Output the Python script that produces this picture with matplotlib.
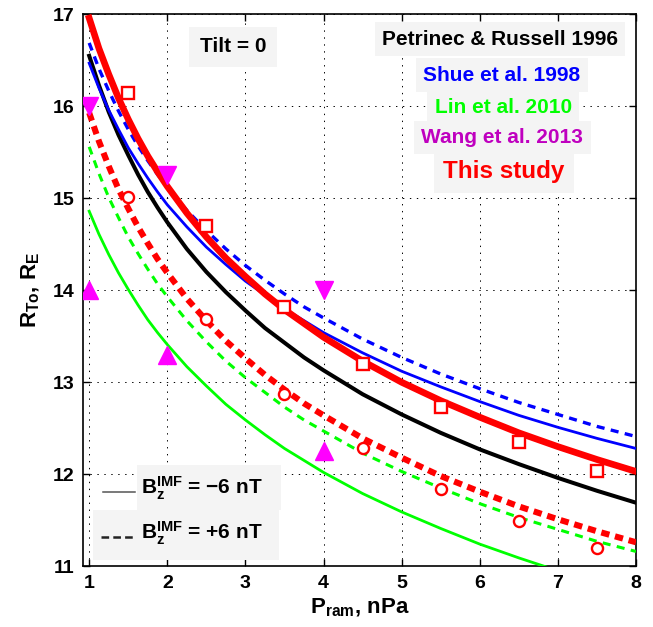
import matplotlib
matplotlib.use('Agg')
import matplotlib.pyplot as plt
from matplotlib.patches import Rectangle

plt.rcParams['font.family'] = ['Liberation Sans', 'DejaVu Sans']
plt.rcParams['font.weight'] = 'bold'
plt.rcParams['mathtext.fontset'] = 'custom'
plt.rcParams['mathtext.rm'] = 'Liberation Sans:bold'
plt.rcParams['mathtext.it'] = 'Liberation Sans:bold'
plt.rcParams['mathtext.bf'] = 'Liberation Sans:bold'
plt.rcParams['mathtext.sf'] = 'Liberation Sans:bold'
plt.rcParams['lines.scale_dashes'] = False

# ---- data ----
p_ram = [1, 1.125, 1.25, 1.375, 1.5, 1.625, 1.75, 1.875, 2, 2.25, 2.5, 2.75, 3, 3.25,
         3.5, 3.75, 4, 4.5, 5, 5.5, 6, 6.5, 7, 7.5, 8]
pr96_bz_neg = [16.55, 16.23, 15.94, 15.69, 15.47, 15.26, 15.07, 14.90, 14.74, 14.45, 14.20,
               13.98, 13.78, 13.59, 13.43, 13.27, 13.13, 12.87, 12.65, 12.45, 12.27, 12.11,
               11.96, 11.82, 11.69]
shue98_bz_neg = [16.47, 16.20, 15.96, 15.75, 15.55, 15.38, 15.22, 15.07, 14.93, 14.69, 14.47,
                 14.28, 14.10, 13.95, 13.80, 13.67, 13.54, 13.32, 13.12, 12.95, 12.79, 12.64,
                 12.51, 12.39, 12.28]
shue98_bz_pos = [16.69, 16.41, 16.17, 15.95, 15.75, 15.57, 15.41, 15.26, 15.12, 14.87, 14.65,
                 14.45, 14.27, 14.11, 13.96, 13.82, 13.70, 13.47, 13.27, 13.09, 12.93, 12.78,
                 12.65, 12.52, 12.41]
lin10_bz_neg = [14.86, 14.61, 14.39, 14.19, 14.01, 13.84, 13.68, 13.54, 13.41, 13.17, 12.96,
                12.76, 12.59, 12.43, 12.28, 12.15, 12.02, 11.79, 11.59, 11.41, 11.24, 11.09,
                10.95, 10.82, 10.70]
lin10_bz_pos = [15.56, 15.27, 15.01, 14.79, 14.58, 14.40, 14.23, 14.07, 13.93, 13.67, 13.44,
                13.23, 13.05, 12.89, 12.73, 12.59, 12.47, 12.23, 12.03, 11.85, 11.68, 11.53,
                11.40, 11.27, 11.16]
study_bz_neg = [16.96, 16.63, 16.35, 16.09, 15.86, 15.65, 15.46, 15.29, 15.13, 14.84, 14.58,
                14.35, 14.15, 13.96, 13.79, 13.64, 13.49, 13.23, 13.00, 12.80, 12.62, 12.45,
                12.30, 12.16, 12.03]
study_bz_pos = [15.93, 15.62, 15.35, 15.10, 14.89, 14.69, 14.51, 14.34, 14.19, 13.91, 13.67,
                13.45, 13.26, 13.08, 12.92, 12.77, 12.64, 12.39, 12.18, 11.98, 11.81, 11.65,
                11.51, 11.38, 11.26]

obs_p = [1.5, 2.5, 3.5, 4.5, 5.5, 6.5, 7.5]
obs_bz_neg = [16.15, 14.70, 13.82, 13.20, 12.73, 12.35, 12.03]
obs_bz_pos = [15.02, 13.69, 12.875, 12.29, 11.84, 11.49, 11.20]

wang_p = [1, 2, 4]
wang_bz_neg = [14.0, 13.3, 12.25]
wang_bz_pos = [16.0, 15.25, 14.0]

x_ticks = [1, 2, 3, 4, 5, 6, 7, 8]
y_ticks = [11, 12, 13, 14, 15, 16, 17]

BLUE = '#0000FF'
GREEN = '#00FF00'
RED = '#FF0000'
MAG = '#FF00FF'
BG = '#f4f4f4'

fig = plt.figure(figsize=(6.53, 6.27), dpi=100)
ax = fig.add_axes([0.127, 0.097, 0.847, 0.880])

dash_thin = (0, (5.8, 4.6))
dash_red = (0, (6.0, 4.2))

ax.plot(p_ram, pr96_bz_neg, color='k', lw=2.9, zorder=3, solid_joinstyle='round')
ax.plot(p_ram, shue98_bz_neg, color=BLUE, lw=2.0, zorder=3, solid_joinstyle='round')
ax.plot(p_ram, shue98_bz_pos, color=BLUE, lw=2.4, ls=dash_thin, dash_capstyle='butt', zorder=3)
ax.plot(p_ram, lin10_bz_neg, color=GREEN, lw=2.0, zorder=3, solid_joinstyle='round')
ax.plot(p_ram, lin10_bz_pos, color=GREEN, lw=2.2, ls=dash_thin, dash_capstyle='butt', zorder=3)
ax.plot(p_ram, study_bz_neg, color=RED, lw=4.8, zorder=4, solid_joinstyle='round')
ax.plot(p_ram, study_bz_pos, color=RED, lw=4.4, ls=dash_red, dash_capstyle='butt', zorder=4)

ax.plot(obs_p, obs_bz_neg, ls='none', marker='s', ms=8, mfc='white', mec=RED, mew=1.7, zorder=5)
ax.plot(obs_p, obs_bz_pos, ls='none', marker='o', ms=8, mfc='white', mec=RED, mew=1.7, zorder=5)
ax.plot(wang_p, wang_bz_neg, ls='none', marker='^', ms=13, color=MAG, mec=MAG, zorder=5)
ax.plot(wang_p, wang_bz_pos, ls='none', marker='v', ms=13, color=MAG, mec=MAG, zorder=5)

ax.set_xlim(0.92, 8)
ax.set_ylim(11, 17)
ax.set_xticks(x_ticks)
ax.set_yticks(y_ticks)
ax.tick_params(direction='in', top=True, right=True, length=5, width=1.0, labelsize=14, pad=6)
for lab in ax.get_xticklabels() + ax.get_yticklabels():
    lab.set_fontweight('bold')
for s in ax.spines.values():
    s.set_linewidth(1.2)
ax.grid(True, color='k', lw=0.7, ls=(0, (1, 4)))
ax.set_axisbelow(True)

ax.set_xlabel(r'$\mathregular{P_{ram}}$, nPa', fontsize=16, fontweight='bold', labelpad=4)
ax.set_ylabel(r'$\mathregular{R_{To}}$, $\mathregular{R_E}$', fontsize=16, fontweight='bold', labelpad=8)

box = dict(boxstyle='square,pad=0.35', facecolor=BG, edgecolor='none')
ax.text(2.84, 16.65, 'Tilt = 0', fontsize=15, ha='center', va='center', color='k',
        bbox=dict(boxstyle='square,pad=0.5', facecolor=BG, edgecolor='none'), zorder=6)
ax.text(6.26, 16.73, 'Petrinec & Russell 1996', fontsize=15, ha='center', va='center', color='k', bbox=box, zorder=6)
ax.text(6.28, 16.34, 'Shue et al. 1998', fontsize=15, ha='center', va='center', color=BLUE, bbox=box, zorder=6)
ax.text(6.30, 15.99, 'Lin et al. 2010', fontsize=15, ha='center', va='center', color=GREEN, bbox=box, zorder=6)
ax.text(6.29, 15.66, 'Wang et al. 2013', fontsize=15, ha='center', va='center', color='#BF00BF', bbox=box, zorder=6)
ax.text(6.31, 15.29, 'This study', fontsize=17.5, ha='center', va='center', color=RED,
        bbox=dict(boxstyle='square,pad=0.4', facecolor=BG, edgecolor='none'), zorder=6)

# B_z legend (text boxes)
ax.add_patch(Rectangle((0.0976, 0.1015), 0.2604, 0.0815, transform=ax.transAxes,
                       facecolor=BG, edgecolor='none', zorder=6))
ax.add_patch(Rectangle((0.0181, 0.0109), 0.3363, 0.0906, transform=ax.transAxes,
                       facecolor=BG, edgecolor='none', zorder=6))
ax.text(1.667, 11.85, r'$\mathregular{B_z^{IMF}}$ = −6 nT', fontsize=15, ha='left', va='center',
        color='k', zorder=7)
ax.text(1.667, 11.36, r'$\mathregular{B_z^{IMF}}$ = +6 nT', fontsize=15, ha='left', va='center',
        color='k', zorder=7)
ax.plot([0.036, 0.094], [0.134, 0.134], transform=ax.transAxes, color='#555555', lw=1.1,
        clip_on=False, zorder=7)
ax.plot([0.033, 0.092], [0.052, 0.052], transform=ax.transAxes, color='#222222', lw=1.8,
        ls=(0, (5.5, 3.0)), dash_capstyle='butt', clip_on=False, zorder=7)

fig.savefig('out.png', dpi=100)
